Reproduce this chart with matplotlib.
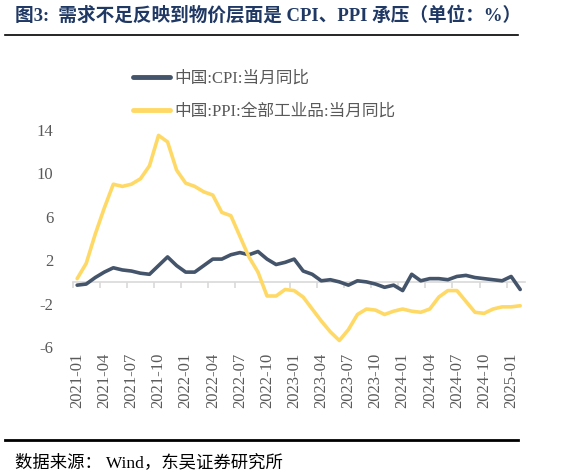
import numpy as np
import matplotlib
matplotlib.use('Agg')
import matplotlib.pyplot as plt
import matplotlib.transforms as mtransforms

plt.rcParams['font.family'] = ['Liberation Serif', 'Noto Sans CJK SC', 'DejaVu Sans']

# 月度数据 2021-01 ~ 2025-02
months = [f"{y}-{m:02d}" for y in range(2021, 2026) for m in range(1, 13)][:50]

cpi = [-0.3, -0.2, 0.4, 0.9, 1.3, 1.1, 1.0, 0.8, 0.7, 1.5, 2.3, 1.5,
       0.9, 0.9, 1.5, 2.1, 2.1, 2.5, 2.7, 2.5, 2.8, 2.1, 1.6, 1.8,
       2.1, 1.0, 0.7, 0.1, 0.2, 0.0, -0.3, 0.1, 0.0, -0.2, -0.5, -0.3,
       -0.8, 0.7, 0.1, 0.3, 0.3, 0.2, 0.5, 0.6, 0.4, 0.3, 0.2, 0.1,
       0.5, -0.7]
ppi = [0.3, 1.7, 4.4, 6.8, 9.0, 8.8, 9.0, 9.5, 10.7, 13.5, 12.9, 10.3,
       9.1, 8.8, 8.3, 8.0, 6.4, 6.1, 4.2, 2.3, 0.9, -1.3, -1.3, -0.7,
       -0.8, -1.4, -2.5, -3.6, -4.6, -5.4, -4.4, -3.0, -2.5, -2.6, -3.0, -2.7,
       -2.5, -2.7, -2.8, -2.5, -1.4, -0.8, -0.8, -1.8, -2.8, -2.9, -2.5, -2.3,
       -2.3, -2.2]
yticks = [14, 10, 6, 2, -2, -6]

x = np.arange(len(months))

fig = plt.figure(figsize=(5.63, 4.76), dpi=100)
ax = fig.add_axes([0.129, 0.271, 0.803, 0.456])

ax.plot(x, cpi, color='#44546a', lw=2.6, label='中国:CPI:当月同比', solid_capstyle='round', zorder=3)
ax.plot(x, ppi, color='#ffd966', lw=2.6, label='中国:PPI:全部工业品:当月同比', solid_capstyle='round', zorder=3)

ax.set_xlim(-0.5, len(months) - 0.5)
ax.set_ylim(-6, 14)
ax.set_yticks(yticks)
ax.set_yticklabels([str(v) for v in yticks], fontsize=12, color='#595959')
ax.tick_params(axis='y', length=0, pad=14)

for s in ['top', 'right', 'left']:
    ax.spines[s].set_visible(False)
ax.spines['bottom'].set_position(('data', 0))
ax.spines['bottom'].set_color('#d9d9d9')
ax.spines['bottom'].set_linewidth(1.2)
ax.set_xticks(np.arange(-0.5, len(months), 3))
ax.set_xticklabels([])
ax.tick_params(axis='x', length=4, color='#d9d9d9', width=1.2)

# 横轴标签放在图底部
trans = mtransforms.blended_transform_factory(ax.transData, ax.transAxes)
for i in range(0, len(months), 3):
    ax.text(i, -0.025, months[i], transform=trans, rotation=90, ha='center', va='top',
            fontsize=12, color='#595959')

leg = ax.legend(loc='center left', bbox_to_anchor=(0.236, 0.800), bbox_transform=fig.transFigure,
                frameon=False, fontsize=12, handlelength=2.2, handletextpad=0.3,
                labelspacing=1.0, borderpad=0, borderaxespad=0)
for t in leg.get_texts():
    t.set_color('#595959')
for h in leg.get_lines():
    h.set_linewidth(3.5)

fig.text(0.027, 0.968, '图3:  需求不足反映到物价层面是 CPI、PPI 承压（单位：%）', fontsize=13.4,
         fontweight='bold', color='#1f3864', va='center', ha='left')
fig.add_artist(plt.Line2D([0.009, 0.92], [0.926, 0.926], color='black', lw=1.2, transform=fig.transFigure))
fig.add_artist(plt.Line2D([0.009, 0.92], [0.076, 0.076], color='black', lw=2, transform=fig.transFigure))
fig.text(0.027, 0.027, '数据来源： Wind，东吴证券研究所', fontsize=12.5, color='black', va='center', ha='left')

fig.savefig('out.png', dpi=100)
